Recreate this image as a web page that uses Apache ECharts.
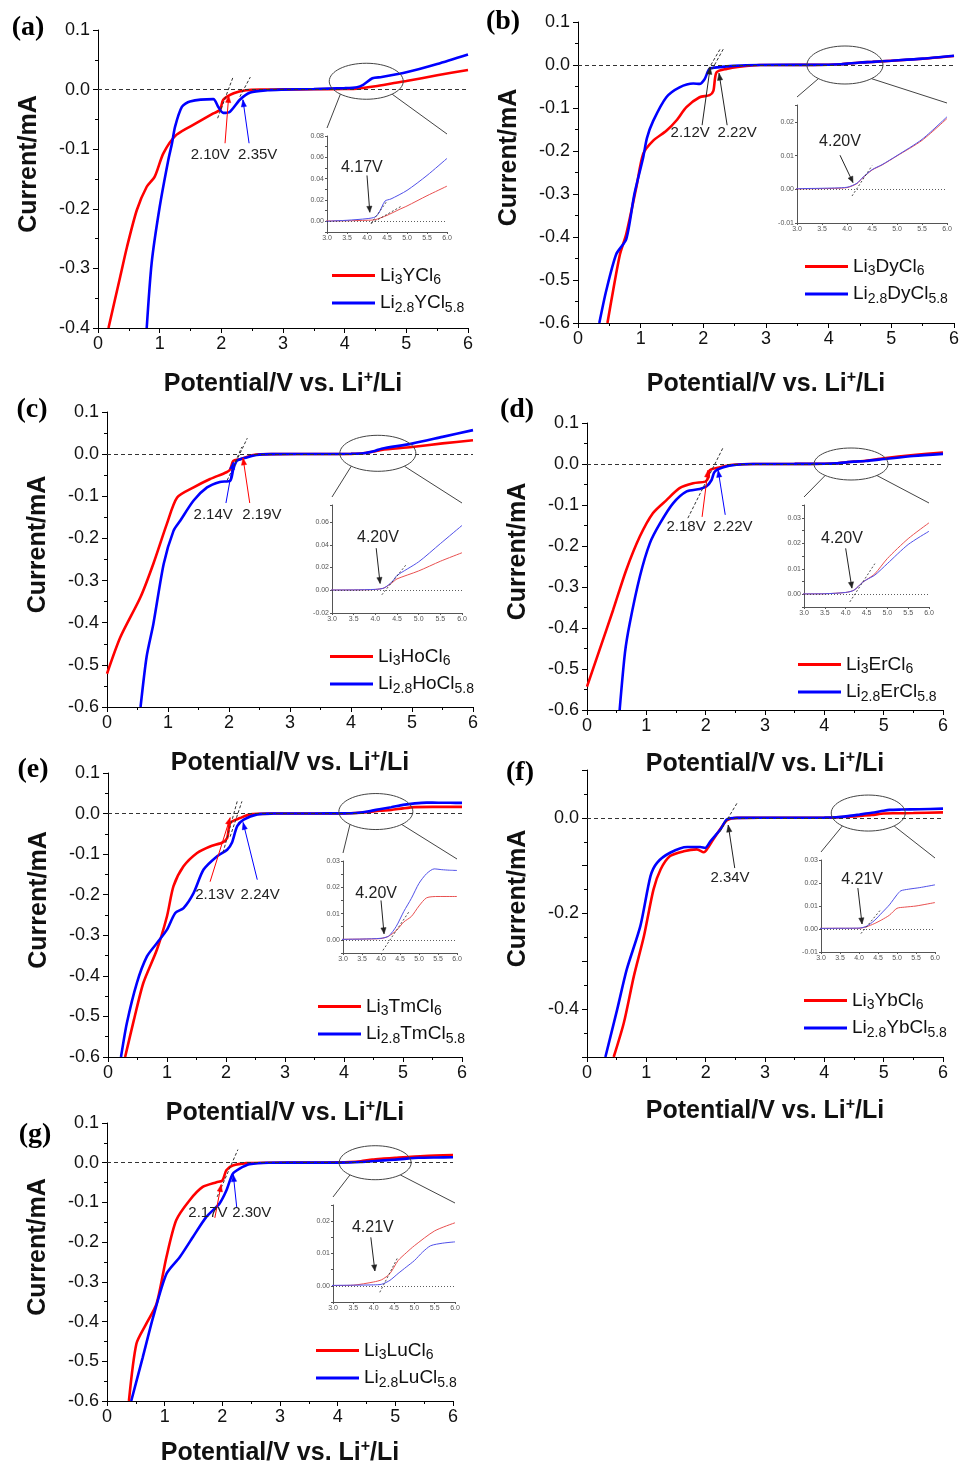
<!DOCTYPE html>
<html><head><meta charset="utf-8">
<script src="https://cdn.jsdelivr.net/npm/echarts@6/dist/echarts.min.js"></script>
<style>html,body{margin:0;padding:0;background:#fff}#c{width:961px;height:1465px}</style>
</head><body><div id="c"></div>
<script>
// ---------- DATA: [potential V, current mA] ----------
const a_red = [[0.17,-0.4],[0.36,-0.314],[0.47,-0.264],[0.63,-0.202],[0.79,-0.163],[0.92,-0.146],[1.06,-0.107],[1.27,-0.076],[1.6,-0.056],[1.87,-0.04],[1.98,-0.034],[2.03,-0.017],[2.2,-0.006],[2.4,-0.001],[2.7,0],[3.0,0.0003],[3.5,0.0005],[4.0,0.001],[4.2,0.0015],[4.5,0.0056],[4.8,0.011],[5.0,0.0144],[5.5,0.024],[6.0,0.033]];
const a_blue = [[0.79,-0.4],[0.87,-0.291],[1.0,-0.197],[1.14,-0.118],[1.2,-0.09],[1.25,-0.062],[1.36,-0.029],[1.49,-0.02],[1.87,-0.016],[1.95,-0.029],[2.03,-0.039],[2.14,-0.037],[2.3,-0.017],[2.47,-0.005],[2.75,-0.001],[3.0,0.0],[3.5,0.001],[4.0,0.0025],[4.2,0.004],[4.3,0.008],[4.45,0.019],[4.6,0.021],[5.0,0.029],[5.5,0.043],[6.0,0.059]];
const b_red = [[0.47,-0.6],[0.56,-0.525],[0.67,-0.44],[0.77,-0.393],[0.93,-0.285],[1.04,-0.207],[1.2,-0.176],[1.41,-0.153],[1.57,-0.129],[1.73,-0.098],[1.94,-0.075],[2.1,-0.07],[2.16,-0.06],[2.21,-0.017],[2.37,-0.009],[2.58,-0.004],[2.9,0],[3.5,0.0002],[4.0,0.0005],[4.2,0.0017],[4.3,0.0032],[4.5,0.0057],[4.7,0.0072],[5.0,0.0099],[5.5,0.0145],[6.0,0.021]];
const b_blue = [[0.34,-0.6],[0.45,-0.525],[0.61,-0.44],[0.77,-0.405],[0.9,-0.3],[1.04,-0.215],[1.1,-0.17],[1.2,-0.13],[1.41,-0.075],[1.62,-0.052],[1.84,-0.043],[1.94,-0.044],[2.02,-0.033],[2.1,-0.009],[2.26,-0.005],[2.48,-0.002],[2.9,0],[3.5,0.0003],[4.0,0.0006],[4.2,0.0018],[4.3,0.0033],[4.5,0.0058],[4.7,0.0073],[5.0,0.0100],[5.5,0.0148],[6.0,0.0215]];
const c_red = [[0,-0.521],[0.22,-0.434],[0.55,-0.339],[0.76,-0.26],[0.98,-0.166],[1.15,-0.103],[1.42,-0.079],[1.69,-0.059],[1.96,-0.043],[2.02,-0.036],[2.07,-0.016],[2.18,-0.012],[2.4,-0.002],[2.7,0],[3.5,0.0003],[4.0,0.0007],[4.2,0.002],[4.4,0.007],[4.5,0.01],[5.0,0.017],[5.5,0.0255],[6.0,0.033]];
const c_blue = [[0.55,-0.6],[0.65,-0.48],[0.76,-0.403],[0.93,-0.26],[1.09,-0.182],[1.2,-0.158],[1.42,-0.11],[1.64,-0.079],[1.85,-0.066],[2.02,-0.063],[2.07,-0.036],[2.13,-0.016],[2.29,-0.008],[2.45,-0.002],[2.7,0],[3.5,0.0003],[4.0,0.0008],[4.2,0.002],[4.4,0.008],[4.5,0.013],[5.0,0.025],[5.5,0.041],[6.0,0.057]];
const d_red = [[0,-0.543],[0.21,-0.454],[0.44,-0.356],[0.66,-0.259],[0.89,-0.177],[1.11,-0.12],[1.34,-0.088],[1.56,-0.059],[1.79,-0.047],[1.99,-0.043],[2.04,-0.035],[2.07,-0.015],[2.24,-0.008],[2.46,-0.002],[2.8,0],[3.5,0.0002],[4.0,0.0007],[4.2,0.0016],[4.4,0.0046],[4.5,0.0057],[4.7,0.008],[5.0,0.014],[5.5,0.0218],[6.0,0.028]];
const d_blue = [[0.55,-0.6],[0.64,-0.46],[0.72,-0.389],[0.89,-0.275],[1.06,-0.193],[1.23,-0.145],[1.45,-0.096],[1.68,-0.067],[1.9,-0.061],[2.01,-0.055],[2.1,-0.039],[2.15,-0.019],[2.3,-0.008],[2.52,-0.002],[2.8,0],[3.5,0.0002],[4.0,0.0007],[4.2,0.0016],[4.4,0.0046],[4.5,0.0057],[4.7,0.0075],[5.0,0.012],[5.5,0.0195],[6.0,0.0247]];
const e_red = [[0.29,-0.6],[0.44,-0.508],[0.6,-0.417],[0.83,-0.335],[1.0,-0.253],[1.11,-0.179],[1.28,-0.13],[1.51,-0.097],[1.73,-0.081],[1.93,-0.072],[2.02,-0.06],[2.07,-0.023],[2.24,-0.011],[2.41,-0.002],[2.8,0],[3.5,0.0003],[4.0,0.0005],[4.2,0.0014],[4.4,0.0035],[4.6,0.0068],[4.8,0.0089],[5.0,0.0129],[5.2,0.016],[5.5,0.0165],[6.0,0.0165]];
const e_blue = [[0.22,-0.6],[0.32,-0.516],[0.49,-0.417],[0.66,-0.352],[0.83,-0.319],[1.0,-0.286],[1.14,-0.245],[1.28,-0.233],[1.45,-0.196],[1.62,-0.138],[1.85,-0.105],[2.02,-0.089],[2.1,-0.072],[2.19,-0.031],[2.3,-0.015],[2.53,-0.002],[2.8,0],[3.5,0.0003],[4.0,0.0006],[4.2,0.0014],[4.4,0.0051],[4.6,0.0108],[4.8,0.0158],[5.0,0.0215],[5.2,0.0252],[5.4,0.027],[5.6,0.0267],[5.8,0.0265],[6.0,0.0264]];
const f_red = [[0.45,-0.5],[0.62,-0.429],[0.79,-0.331],[0.96,-0.247],[1.12,-0.15],[1.24,-0.108],[1.4,-0.08],[1.63,-0.07],[1.85,-0.066],[1.97,-0.072],[2.02,-0.066],[2.13,-0.045],[2.25,-0.023],[2.36,-0.005],[2.53,0],[3.3,0.0003],[4.0,0.0003],[4.2,0.001],[4.4,0.0023],[4.6,0.004],[4.8,0.006],[5.0,0.009],[5.2,0.0095],[5.5,0.010],[6.0,0.0115]];
const f_blue = [[0.31,-0.5],[0.51,-0.4],[0.67,-0.317],[0.9,-0.226],[1.07,-0.122],[1.18,-0.094],[1.4,-0.073],[1.69,-0.061],[1.91,-0.061],[1.99,-0.063],[2.08,-0.049],[2.25,-0.024],[2.36,-0.003],[2.53,0],[3.3,0.0003],[4.0,0.0004],[4.2,0.0012],[4.4,0.0036],[4.6,0.007],[4.8,0.0105],[5.0,0.0149],[5.1,0.0166],[5.3,0.0173],[5.6,0.018],[6.0,0.0192]];
const g_red = [[0.38,-0.6],[0.51,-0.456],[0.68,-0.406],[0.86,-0.355],[1.03,-0.238],[1.2,-0.145],[1.43,-0.095],[1.66,-0.061],[1.9,-0.049],[2.0,-0.045],[2.07,-0.019],[2.18,-0.007],[2.42,-0.001],[2.8,0],[3.5,0.0002],[4.0,0.0012],[4.2,0.0019],[4.4,0.0038],[4.6,0.0078],[4.8,0.0102],[5.0,0.0124],[5.5,0.017],[6.0,0.0195]];
const g_blue = [[0.42,-0.6],[0.62,-0.49],[0.8,-0.389],[1.03,-0.28],[1.26,-0.238],[1.49,-0.187],[1.72,-0.137],[1.95,-0.103],[2.07,-0.07],[2.18,-0.028],[2.3,-0.015],[2.47,-0.004],[2.8,0],[3.5,0.0002],[4.0,0.0003],[4.2,0.0005],[4.4,0.0017],[4.6,0.0038],[4.8,0.0058],[5.0,0.0078],[5.2,0.0104],[5.4,0.0124],[5.7,0.0132],[6.0,0.0136]];

const tags = ['(a)','(b)','(c)','(d)','(e)','(f)','(g)'];
const redNames = ['Li3YCl6','Li3DyCl6','Li3HoCl6','Li3ErCl6','Li3TmCl6','Li3YbCl6','Li3LuCl6'];
const blueNames = ['Li2.8YCl5.8','Li2.8DyCl5.8','Li2.8HoCl5.8','Li2.8ErCl5.8','Li2.8TmCl5.8','Li2.8YbCl5.8','Li2.8LuCl5.8'];
const redData = [a_red,b_red,c_red,d_red,e_red,f_red,g_red];
const blueData = [a_blue,b_blue,c_blue,d_blue,e_blue,f_blue,g_blue];
const onsetLabels = [['2.10V','2.35V'],['2.12V','2.22V'],['2.14V','2.19V'],['2.18V','2.22V'],['2.13V','2.24V'],['2.34V'],['2.17V','2.30V']];
const oxLabels = ['4.17V','4.20V','4.20V','4.20V','4.20V','4.21V','4.21V'];

// ---------- LAYOUT / ANNOTATION CONFIG ----------
const layout = [
 {main:[98,30,468,328], ymin:-0.4, xGap:42, tag:[28,28], leg:[332,276],
  inset:[327,136,447,232], iy:[-0.01,0.08,0.01,0.02,0],
  txt:[[1.82,-0.11],[2.59,-0.11]], arr:[['r',[2.06,-0.09],[2.12,-0.01]],['b',[2.45,-0.09],[2.35,-0.017]]],
  tan:[[[1.94,-0.048],[2.19,0.021]],[[2.30,-0.012],[2.47,0.021]]], ell:[4.35,0.014,37,18],
  itxt:[3.87,0.05], iarr:[[4.0,0.043],[4.07,0.0085]], itan:[[[4.1,-0.002],[4.5,0.019]],[[4.1,-0.002],[4.85,0.014]]]},
 {main:[578,22,954,323], ymin:-0.6, xGap:47, tag:[503,22], leg:[805,267],
  inset:[797,105,947,223], iy:[-0.01,0.025,0.01,0.01,-0.01],
  txt:[[1.79,-0.158],[2.54,-0.158]], arr:[['k',[1.98,-0.14],[2.11,-0.005]],['k',[2.38,-0.14],[2.25,-0.019]]],
  tan:[[[2.08,-0.01],[2.28,0.04]],[[2.14,-0.01],[2.33,0.04]]], ell:[4.26,0,38,19],
  itxt:[3.86,0.014], iarr:[[3.86,0.0101],[4.12,0.002]], itan:[[[4.1,-0.002],[4.5,0.007]]]},
 {main:[107,412,473,707], ymin:-0.6, xGap:42, tag:[32,410], leg:[330,657],
  inset:[332,505,462,613], iy:[-0.02,0.075,0.02,0.02,-0.02],
  txt:[[1.74,-0.145],[2.54,-0.145]], arr:[['b',[1.95,-0.116],[2.07,-0.019]],['r',[2.34,-0.116],[2.23,-0.009]]],
  tan:[[[1.97,-0.062],[2.3,0.038]],[[2.07,-0.03],[2.21,0.017]]], ell:[4.44,0.002,38,18],
  itxt:[4.06,0.046], iarr:[[4.02,0.037],[4.11,0.006]], itan:[[[4.15,-0.004],[4.7,0.022]]]},
 {main:[587,423,943,710], ymin:-0.6, xGap:40, tag:[517,410], leg:[798,665],
  inset:[804,505,929,607], iy:[-0.005,0.035,0.005,0.01,0],
  txt:[[1.67,-0.154],[2.46,-0.154]], arr:[['r',[1.94,-0.129],[2.04,-0.015]],['b',[2.33,-0.124],[2.21,-0.015]]],
  tan:[[[1.7,-0.132],[2.29,0.039]]], ell:[4.45,0,37,16],
  itxt:[3.91,0.022], iarr:[[4.0,0.018],[4.15,0.0024]], itan:[[[4.1,-0.003],[4.7,0.012]]]},
 {main:[108,773,462,1057], ymin:-0.6, xGap:42, tag:[33,770], leg:[318,1007],
  inset:[343,861,457,953], iy:[-0.005,0.03,0.005,0.01,0],
  txt:[[1.81,-0.2],[2.58,-0.2]], arr:[['r',[1.73,-0.168],[2.07,-0.01]],['b',[2.53,-0.163],[2.29,-0.022]]],
  tan:[[[1.95,-0.096],[2.19,0.03]],[[2.07,-0.057],[2.27,0.03]]], ell:[4.54,0.005,37,18],
  itxt:[3.87,0.0177], iarr:[[4.0,0.015],[4.08,0.0023]], itan:[[[4.05,-0.004],[4.75,0.011]]]},
 {main:[587,770,943,1057], ymin:-0.5, xGap:40, tag:[520,773], leg:[804,1001],
  inset:[821,860,935,952], iy:[-0.01,0.03,0.01,0.01,-0.01],
  txt:[[2.41,-0.126]], arr:[['k',[2.49,-0.105],[2.38,-0.015]]],
  tan:[[[2.24,-0.029],[2.53,0.031]]], ell:[4.74,0.01,37,18],
  itxt:[4.08,0.0213], iarr:[[3.97,0.0178],[4.08,0.0022]], itan:[[[4.05,-0.002],[4.55,0.008]]]},
 {main:[107,1123,453,1401], ymin:-0.6, xGap:38, tag:[35,1135], leg:[316,1351],
  inset:[333,1205,455,1302], iy:[-0.005,0.025,0.005,0.01,0],
  txt:[[1.75,-0.126],[2.51,-0.126]], arr:[['r',[1.87,-0.139],[1.98,-0.055]],['b',[2.25,-0.113],[2.19,-0.03]]],
  tan:[[[1.91,-0.086],[2.27,0.033]]], ell:[4.65,0,36,17],
  itxt:[3.98,0.018], iarr:[[3.93,0.015],[4.03,0.0046]], itan:[[[4.15,-0.002],[4.6,0.009]]]}
];

const FONT = '"Liberation Sans", Arial, sans-serif';
const RED = '#ff0000', BLUE = '#0000ff';
const IRED = '#e85050', IBLUE = '#5050e8';
const colMap = {r: RED, b: BLUE, k: '#222'};

function richName(name) {
  return name.replace(/([A-Za-z]+)|(\d+(?:\.\d+)?)/g, (m, a, d) => a ? '{n|' + a + '}' : '{s|' + d + '}');
}
function near(v, step) { const k = v / step; return Math.abs(k - Math.round(k)) < 1e-6; }

const chart = echarts.init(document.getElementById('c'), null, {width: 961, height: 1465});
const grid = [], xAxis = [], yAxis = [], series = [], legend = [];

layout.forEach((p, i) => {
  const gm = 2 * i, gi = 2 * i + 1;
  const [L, T, R, B] = p.main;
  grid.push({left: L, top: T, width: R - L, height: B - T, containLabel: false, outerBoundsMode: 'none'});
  const [iL, iT, iR, iB] = p.inset;
  grid.push({left: iL, top: iT, width: iR - iL, height: iB - iT, containLabel: false, outerBoundsMode: 'none'});

  const blk = {color: '#000', width: 1};
  xAxis.push({type: 'value', gridIndex: gm, min: 0, max: 6, interval: 1,
    axisLine: {show: true, onZero: false, lineStyle: blk},
    axisTick: {show: true, length: 5, lineStyle: blk},
    minorTick: {show: true, splitNumber: 2, length: 3, lineStyle: blk},
    splitLine: {show: false},
    axisLabel: {fontSize: 18, color: '#111', fontFamily: FONT, margin: 7},
    name: 'Potential/V vs. Li{p|+}/Li', nameLocation: 'middle', nameGap: p.xGap,
    nameTextStyle: {fontSize: 25, fontWeight: 'bold', color: '#111', fontFamily: FONT,
      rich: {p: {fontSize: 16, fontWeight: 'bold', color: '#111', fontFamily: FONT, padding: [0, 0, 12, 0]}}}
  });
  yAxis.push({type: 'value', gridIndex: gm, min: p.ymin, max: 0.1, interval: 0.1,
    axisLine: {show: true, onZero: false, lineStyle: blk},
    axisTick: {show: true, length: 5, lineStyle: blk},
    minorTick: {show: true, splitNumber: 2, length: 3, lineStyle: blk},
    splitLine: {show: false},
    axisLabel: {fontSize: 18, color: '#111', fontFamily: FONT, margin: 8,
      formatter: v => {
        const r = Math.round(v * 10) / 10;
        if (p.ymin === -0.5 && !near(r, 0.2)) return '';
        return (Math.abs(r) < 1e-9 ? 0 : r).toFixed(1);
      }},
    name: 'Current/mA', nameLocation: 'middle', nameRotate: 90, nameGap: 56,
    nameTextStyle: {fontSize: 25, fontWeight: 'bold', color: '#111', fontFamily: FONT, padding: [0, 0, 0, 30]}
  });

  const gl = {color: '#555', width: 1};
  xAxis.push({type: 'value', gridIndex: gi, min: 3, max: 6, interval: 0.5,
    axisLine: {show: true, onZero: false, lineStyle: gl},
    axisTick: {show: true, length: 2, lineStyle: gl},
    splitLine: {show: false},
    axisLabel: {fontSize: 7, color: '#555', fontFamily: FONT, margin: 3, formatter: v => v.toFixed(1)}
  });
  const [ymn, ymx, yint, ystep, ylab] = p.iy;
  yAxis.push({type: 'value', gridIndex: gi, min: ymn, max: ymx, interval: yint,
    axisLine: {show: true, onZero: false, lineStyle: gl},
    axisTick: {show: true, length: 2, lineStyle: gl},
    splitLine: {show: false},
    axisLabel: {fontSize: 7, color: '#555', fontFamily: FONT, margin: 3,
      formatter: v => {
        if (!near(v, ystep) || v < ylab - 1e-9) return '';
        const r = Math.round(v / ystep) * ystep;
        return (Math.abs(r) < 1e-9 ? 0 : r).toFixed(2);
      }}
  });

  const zero = {silent: true, symbol: ['none', 'none'], label: {show: false},
    lineStyle: {color: '#333', width: 1, type: [4, 3]}, emphasis: {disabled: true}, data: [{yAxis: 0}]};
  const zeroDot = {silent: true, symbol: ['none', 'none'], label: {show: false},
    lineStyle: {color: '#333', width: 0.8, type: [1, 2]}, emphasis: {disabled: true}, data: [{yAxis: 0}]};

  series.push({type: 'line', name: redNames[i], xAxisIndex: gm, yAxisIndex: gm, data: redData[i],
    showSymbol: false, smooth: 0.25, lineStyle: {color: RED, width: 2.6}, itemStyle: {color: RED}, markLine: zero, z: 3});
  series.push({type: 'line', name: blueNames[i], xAxisIndex: gm, yAxisIndex: gm, data: blueData[i],
    showSymbol: false, smooth: 0.25, lineStyle: {color: BLUE, width: 2.6}, itemStyle: {color: BLUE}, z: 4});
  series.push({type: 'line', name: redNames[i], xAxisIndex: gi, yAxisIndex: gi, data: redData[i],
    showSymbol: false, smooth: 0.25, lineStyle: {color: IRED, width: 1}, itemStyle: {color: RED}, markLine: zeroDot, z: 3});
  series.push({type: 'line', name: blueNames[i], xAxisIndex: gi, yAxisIndex: gi, data: blueData[i],
    showSymbol: false, smooth: 0.25, lineStyle: {color: IBLUE, width: 1}, itemStyle: {color: BLUE}, z: 4});

  legend.push({orient: 'vertical', left: p.leg[0], top: p.leg[1] - 10, padding: 0, itemGap: 6,
    icon: 'rect', itemWidth: 43, itemHeight: 3, selectedMode: false,
    data: [redNames[i], blueNames[i]],
    formatter: name => richName(name),
    textStyle: {fontSize: 19, color: '#111', fontFamily: FONT,
      rich: {n: {fontSize: 19, color: '#111', fontFamily: FONT},
             s: {fontSize: 14, color: '#111', fontFamily: FONT, padding: [10, 0, 0, 0]}}}
  });
});

chart.setOption({animation: false, backgroundColor: '#fff', grid, xAxis, yAxis, series, legend});

// ---------- annotation graphics (positions from data coords) ----------
const g = [];
function px(gridIndex, pt) { return chart.convertToPixel({gridIndex}, pt); }
function line(a, b, stroke, dash, w) {
  g.push({type: 'line', silent: true, z: 50, shape: {x1: a[0], y1: a[1], x2: b[0], y2: b[1]},
    style: {stroke, lineWidth: w || 1, lineDash: dash || null}});
}
function arrow(a, b, color, head) {
  line(a, b, color, null, 1);
  const dx = b[0] - a[0], dy = b[1] - a[1], len = Math.hypot(dx, dy) || 1;
  const ux = dx / len, uy = dy / len, H = head || 7, W = 2.6;
  const bx = b[0] - ux * H, by = b[1] - uy * H;
  g.push({type: 'polygon', silent: true, z: 51,
    shape: {points: [[b[0], b[1]], [bx - uy * W, by + ux * W], [bx + uy * W, by - ux * W]]},
    style: {fill: color, stroke: color, lineWidth: 0.5}});
}
function text(t, at, size) {
  g.push({type: 'text', silent: true, z: 52, x: at[0], y: at[1],
    style: {text: t, fill: '#222', font: (size || 15) + 'px ' + FONT, textAlign: 'center', textVerticalAlign: 'middle', verticalAlign: 'middle'}});
}

layout.forEach((p, i) => {
  const gm = 2 * i, gi = 2 * i + 1;
  g.push({type: 'text', silent: true, z: 52, x: p.tag[0], y: p.tag[1],
    style: {text: tags[i], fill: '#000', font: 'bold 28px "Liberation Serif", "Times New Roman", serif', textAlign: 'center', textVerticalAlign: 'middle', verticalAlign: 'middle'}});
  p.tan.forEach(t => line(px(gm, t[0]), px(gm, t[1]), '#333', [3, 2], 1));
  p.arr.forEach(a => arrow(px(gm, a[1]), px(gm, a[2]), colMap[a[0]], 7));
  p.txt.forEach((t, k) => text(onsetLabels[i][k], px(gm, t), 15));
  const c = px(gm, [p.ell[0], p.ell[1]]), rx = p.ell[2], ry = p.ell[3];
  g.push({type: 'ellipse', silent: true, z: 50, shape: {cx: c[0], cy: c[1], rx, ry},
    style: {fill: 'none', stroke: '#444', lineWidth: 1}});
  const [iL, iT, iR] = p.inset;
  line([c[0] - rx * 0.7, c[1] + ry * 0.72], [iL, iT - 8], '#444', null, 1);
  line([c[0] + rx * 0.7, c[1] + ry * 0.72], [iR, iT - 2], '#444', null, 1);
  p.itan.forEach(t => line(px(gi, t[0]), px(gi, t[1]), '#222', [2, 2], 0.8));
  arrow(px(gi, p.iarr[0]), px(gi, p.iarr[1]), '#222', 6);
  text(oxLabels[i], px(gi, p.itxt), 16);
});

chart.setOption({graphic: {elements: g}});
</script>
</body></html>
